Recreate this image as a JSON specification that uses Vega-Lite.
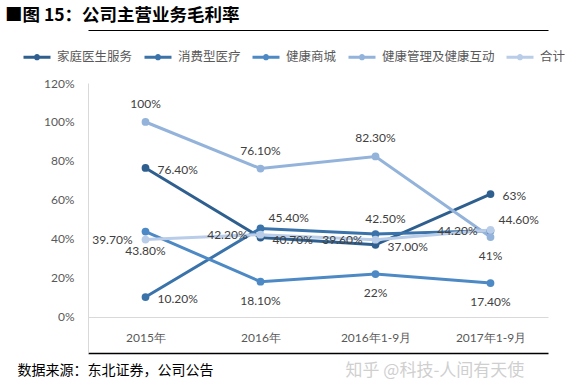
{
  "$schema": "https://vega.github.io/schema/vega-lite/v6.json",
  "width": 460,
  "height": 270,
  "autosize": {"type": "none"},
  "padding": {"left": 88, "top": 83, "right": 29, "bottom": 37},
  "background": "white",
  "config": {"view": {"stroke": null}, "font": "Lato"},
  "title": {"text": "■图 15：公司主营业务毛利率", "anchor": "start", "frame": "group", "dx": -83, "offset": 6, "font": "Noto Sans CJK SC", "fontSize": 17.5, "fontWeight": "bold", "color": "#000000"},
  "data": {"values": [
    {"period": "2015年", "series": "家庭医生服务", "value": 76.4, "label": "76.40%"},
    {"period": "2016年", "series": "家庭医生服务", "value": 40.7, "label": "40.70%"},
    {"period": "2016年1-9月", "series": "家庭医生服务", "value": 37.0, "label": "37.00%"},
    {"period": "2017年1-9月", "series": "家庭医生服务", "value": 63, "label": "63%"},
    {"period": "2015年", "series": "消费型医疗", "value": 10.2, "label": "10.20%"},
    {"period": "2016年", "series": "消费型医疗", "value": 45.4, "label": "45.40%"},
    {"period": "2016年1-9月", "series": "消费型医疗", "value": 42.5, "label": "42.50%"},
    {"period": "2017年1-9月", "series": "消费型医疗", "value": 44.2, "label": "44.20%"},
    {"period": "2015年", "series": "健康商城", "value": 43.8, "label": "43.80%"},
    {"period": "2016年", "series": "健康商城", "value": 18.1, "label": "18.10%"},
    {"period": "2016年1-9月", "series": "健康商城", "value": 22, "label": "22%"},
    {"period": "2017年1-9月", "series": "健康商城", "value": 17.4, "label": "17.40%"},
    {"period": "2015年", "series": "健康管理及健康互动", "value": 100, "label": "100%"},
    {"period": "2016年", "series": "健康管理及健康互动", "value": 76.1, "label": "76.10%"},
    {"period": "2016年1-9月", "series": "健康管理及健康互动", "value": 82.3, "label": "82.30%"},
    {"period": "2017年1-9月", "series": "健康管理及健康互动", "value": 41, "label": "41%"},
    {"period": "2015年", "series": "合计", "value": 39.7, "label": "39.70%"},
    {"period": "2016年", "series": "合计", "value": 42.2, "label": "42.20%"},
    {"period": "2016年1-9月", "series": "合计", "value": 39.6, "label": "39.60%"},
    {"period": "2017年1-9月", "series": "合计", "value": 44.6, "label": "44.60%"}
  ]},
  "encoding": {
    "y": {"field": "value", "type": "quantitative", "scale": {"domain": [-18.5, 120], "nice": false, "zero": false},
      "axis": {"values": [0, 20, 40, 60, 80, 100, 120], "labelExpr": "datum.value + '%'", "domain": true, "domainColor": "#d9d9d9", "ticks": false, "grid": true,
        "gridColor": {"condition": {"test": "datum.value === 0", "value": "#d9d9d9"}, "value": "transparent"},
        "labelPadding": 14, "labelFont": "Lato", "labelFontSize": 12, "labelColor": "#595959",
        "title": "知乎 @科技-人间有天使", "titleAngle": 0, "titleX": 257, "titleY": 287, "titleAlign": "left", "titleBaseline": "middle", "titleFont": "Noto Sans CJK SC", "titleFontSize": 17, "titleFontWeight": "normal", "titleColor": "#cfcfcf"}}
  },
  "layer": [
    {
      "data": {"values": [{"line": "footer"}]},
      "mark": {"type": "rule", "color": "#000000", "strokeWidth": 1.5},
      "encoding": {"y": {"datum": -18.3, "type": "quantitative"}}
    },
    {
      "mark": {"type": "line", "strokeWidth": 3, "point": {"filled": true, "size": 60}},
      "encoding": {
        "x": {"field": "period", "type": "nominal", "sort": ["2015年", "2016年", "2016年1-9月", "2017年1-9月"], "scale": {"type": "point", "padding": 0.5},
          "axis": {"orient": "bottom", "offset": 0, "domain": true, "domainColor": "#000000", "domainWidth": 1.5, "ticks": false, "labelPadding": -16, "labelBaseline": "middle", "labelFont": "Lato", "labelFontSize": 12, "labelColor": "#595959", "labelAngle": 0,
            "title": "数据来源：东北证券，公司公告", "titleX": -71, "titleY": 17, "titleAlign": "left", "titleAnchor": "start", "titleBaseline": "middle", "titleFont": "Noto Sans CJK SC", "titleFontSize": 14, "titleFontWeight": "normal", "titleColor": "#000000"}},
        "color": {"field": "series", "type": "nominal",
          "scale": {"domain": ["家庭医生服务", "消费型医疗", "健康商城", "健康管理及健康互动", "合计"], "range": ["#2E5F8E", "#3A72AA", "#4C89C5", "#93B3DB", "#B9CDE8"]},
          "legend": {"orient": "none", "legendX": -66, "legendY": -41, "direction": "horizontal", "title": null,
            "symbolType": "M-1,0L1,0M-0.12,0A0.12,0.12,0,1,1,0.12,0A0.12,0.12,0,1,1,-0.12,0", "symbolSize": 729, "symbolStrokeWidth": 3,
            "labelFont": "Noto Sans CJK SC", "labelFontSize": 12.5, "labelColor": "#595959", "labelOffset": 5, "columnPadding": 5}}
      }
    },
    {
      "transform": [{"filter": "datum.series === '健康管理及健康互动' && datum.value > 50"}],
      "mark": {"type": "text", "align": "center", "baseline": "middle", "dy": -18, "fontSize": 12, "color": "#404040", "font": "Lato"},
      "encoding": {
        "x": {"field": "period", "type": "nominal", "sort": ["2015年", "2016年", "2016年1-9月", "2017年1-9月"], "scale": {"type": "point", "padding": 0.5},
          "axis": {"orient": "top", "offset": 53, "domain": true, "domainColor": "#000000", "domainWidth": 1.2, "domainOpacity": 1, "ticks": false, "labels": false, "title": null}},
        "text": {"field": "label"}
      }
    },
    {
      "transform": [{"filter": "datum.series === '消费型医疗' && datum.period === '2016年1-9月'"}],
      "mark": {"type": "text", "align": "center", "baseline": "middle", "dx": 10, "dy": -15, "fontSize": 12, "color": "#404040", "font": "Lato"},
      "encoding": {
        "x": {"field": "period", "type": "nominal", "sort": ["2015年", "2016年", "2016年1-9月", "2017年1-9月"], "axis": null},
        "text": {"field": "label"}
      }
    },
    {
      "transform": [{"filter": "datum.series === '家庭医生服务' || (datum.series === '消费型医疗' && datum.period === '2015年')"}],
      "mark": {"type": "text", "align": "left", "baseline": "middle", "dx": 12, "dy": 2, "fontSize": 12, "color": "#404040", "font": "Lato"},
      "encoding": {
        "x": {"field": "period", "type": "nominal", "sort": ["2015年", "2016年", "2016年1-9月", "2017年1-9月"], "axis": null},
        "text": {"field": "label"}
      }
    },
    {
      "transform": [{"filter": "(datum.series === '消费型医疗' && datum.period === '2016年') || (datum.series === '合计' && datum.period === '2017年1-9月')"}],
      "mark": {"type": "text", "align": "left", "baseline": "middle", "dx": 8, "dy": -10, "fontSize": 12, "color": "#404040", "font": "Lato"},
      "encoding": {
        "x": {"field": "period", "type": "nominal", "sort": ["2015年", "2016年", "2016年1-9月", "2017年1-9月"], "axis": null},
        "text": {"field": "label"}
      }
    },
    {
      "transform": [{"filter": "(datum.series === '合计' && datum.period !== '2017年1-9月') || (datum.series === '消费型医疗' && datum.period === '2017年1-9月')"}],
      "mark": {"type": "text", "align": "right", "baseline": "middle", "dx": -13, "fontSize": 12, "color": "#404040", "font": "Lato"},
      "encoding": {
        "x": {"field": "period", "type": "nominal", "sort": ["2015年", "2016年", "2016年1-9月", "2017年1-9月"], "axis": null},
        "text": {"field": "label"}
      }
    },
    {
      "transform": [{"filter": "datum.series === '健康商城' || (datum.series === '健康管理及健康互动' && datum.period === '2017年1-9月')"}],
      "mark": {"type": "text", "align": "center", "baseline": "middle", "dy": 19, "fontSize": 12, "color": "#404040", "font": "Lato"},
      "encoding": {
        "x": {"field": "period", "type": "nominal", "sort": ["2015年", "2016年", "2016年1-9月", "2017年1-9月"], "axis": null},
        "text": {"field": "label"}
      }
    }
  ],
  "resolve": {"axis": {"x": "independent"}}
}
